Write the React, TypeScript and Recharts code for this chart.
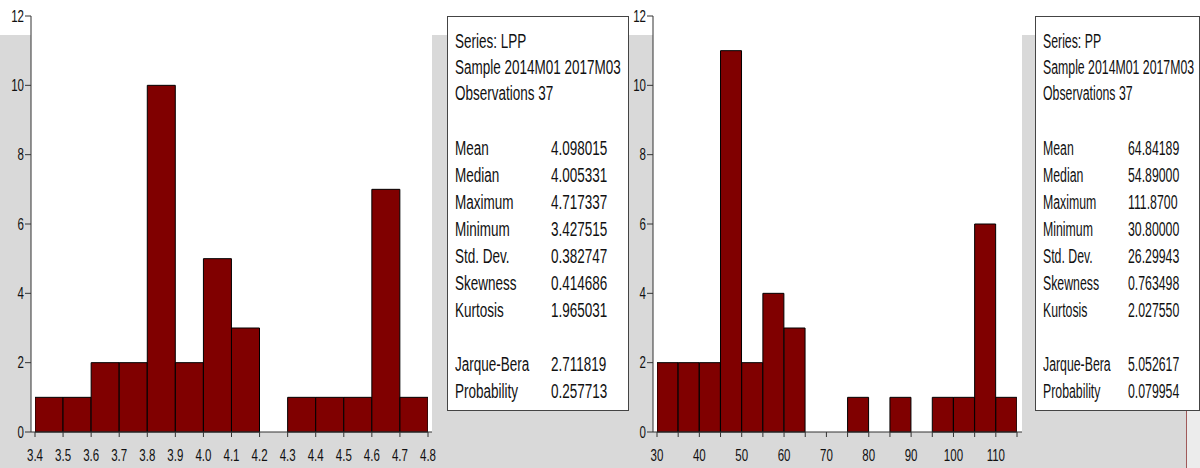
import { BarChart, Bar, XAxis, YAxis, CartesianGrid } from 'recharts';

// LPP histogram: bin mid points and counts (bin width 0.1)
const lppMids = [3.45, 3.55, 3.65, 3.75, 3.85, 3.95, 4.05, 4.15, 4.25, 4.35, 4.45, 4.55, 4.65, 4.75];
const lppCounts = [1, 1, 2, 2, 10, 2, 5, 3, 0, 1, 1, 1, 7, 1];
const lppTicks = [3.4, 3.5, 3.6, 3.7, 3.8, 3.9, 4.0, 4.1, 4.2, 4.3, 4.4, 4.5, 4.6, 4.7, 4.8];

// PP histogram: bin mid points and counts (bin width 5)
const ppMids = [32.5, 37.5, 42.5, 47.5, 52.5, 57.5, 62.5, 67.5, 72.5, 77.5, 82.5, 87.5, 92.5, 97.5, 102.5, 107.5, 112.5];
const ppCounts = [2, 2, 2, 11, 2, 4, 3, 0, 0, 1, 0, 1, 0, 1, 1, 6, 1];
const ppTicks = [30, 35, 40, 45, 50, 55, 60, 65, 70, 75, 80, 85, 90, 95, 100, 105, 110, 115];

const yTicks = [0, 2, 4, 6, 8, 10, 12];

const lppStats: [string, string][] = [
  ['Mean', '4.098015'], ['Median', '4.005331'], ['Maximum', '4.717337'], ['Minimum', '3.427515'],
  ['Std. Dev.', '0.382747'], ['Skewness', '0.414686'], ['Kurtosis', '1.965031'],
];
const lppTests: [string, string][] = [['Jarque-Bera', '2.711819'], ['Probability', '0.257713']];

const ppStats: [string, string][] = [
  ['Mean', '64.84189'], ['Median', '54.89000'], ['Maximum', '111.8700'], ['Minimum', '30.80000'],
  ['Std. Dev.', '26.29943'], ['Skewness', '0.763498'], ['Kurtosis', '2.027550'],
];
const ppTests: [string, string][] = [['Jarque-Bera', '5.052617'], ['Probability', '0.079954']];

// EViews uses a narrow font; fake it by squeezing Liberation Sans horizontally
const FONT = '"Liberation Sans", Arial, sans-serif';
const SQUEEZE = 0.72;
const AXIS = '#333';
const BAR = '#800000';

// eslint-disable-next-line @typescript-eslint/no-explicit-any
const XTick = ({ x, y, payload, fmt }: any) => (
  <g transform={`translate(${x},${y})`}>
    <text transform={`scale(${SQUEEZE},1)`} textAnchor="middle" dy={22} fontSize={16} fontFamily={FONT} fill="#111">
      {fmt(payload.value)}
    </text>
  </g>
);

// eslint-disable-next-line @typescript-eslint/no-explicit-any
const YTick = ({ x, y, payload }: any) => (
  <g transform={`translate(${x},${y})`}>
    <text transform={`scale(${SQUEEZE},1)`} textAnchor="end" dy={5.5} fontSize={16} fontFamily={FONT} fill="#111">
      {payload.value}
    </text>
  </g>
);

interface HistProps {
  mids: number[];
  counts: number[];
  ticks: number[];
  domain: [number, number];
  pad: { left: number; right: number };
  yWidth: number;
  width: number;
  fmt: (v: number) => string;
}

function Histogram({ mids, counts, ticks, domain, pad, yWidth, width, fmt }: HistProps) {
  const data = mids.map((m, i) => ({ mid: m, count: counts[i] }));
  return (
    <BarChart
      width={width}
      height={468}
      data={data}
      margin={{ top: 16, right: 18, left: 0, bottom: 6 }}
      barCategoryGap={0}
      barGap={0}
    >
      <CartesianGrid fill="#fff" horizontal={false} vertical={false} />
      <XAxis
        type="number"
        dataKey="mid"
        domain={domain}
        ticks={ticks}
        interval={0}
        padding={pad}
        tick={<XTick fmt={fmt} />}
        tickSize={5}
        stroke={AXIS}
        allowDataOverflow
        height={30}
      />
      <XAxis xAxisId="top" orientation="top" type="number" domain={domain} padding={pad} tick={false} tickLine={false} stroke={AXIS} height={0} />
      <YAxis
        domain={[0, 12]}
        ticks={yTicks}
        interval={0}
        tick={<YTick />}
        tickSize={6}
        tickMargin={1}
        stroke={AXIS}
        width={yWidth}
      />
      <YAxis yAxisId="right" orientation="right" domain={[0, 12]} tick={false} tickLine={false} stroke={AXIS} width={0} />
      <Bar dataKey="count" fill={BAR} stroke="#000" strokeWidth={1} isAnimationActive={false} />
    </BarChart>
  );
}

function StatsBox({ series, stats, tests, left, width, valueX, squeeze }: {
  series: string; stats: [string, string][]; tests: [string, string][];
  left: number; width: number; valueX: number; squeeze: number;
}) {
  const row = (k: string, v: string) => (
    <div key={k} style={{ display: 'flex', height: 27, lineHeight: '27px' }}>
      <span style={{ width: valueX / squeeze, flexShrink: 0 }}>{k}</span>
      <span>{v}</span>
    </div>
  );
  return (
    <div
      style={{
        position: 'absolute', left, top: 16, width, height: 395, boxSizing: 'border-box',
        background: '#fff', border: '1px solid #444', overflow: 'hidden',
      }}
    >
      <div
        style={{
          position: 'absolute', left: 7, top: 11, width: 400, whiteSpace: 'nowrap',
          fontFamily: FONT, fontSize: 20, color: '#111', lineHeight: '26px',
          transform: `scaleX(${squeeze})`, transformOrigin: 'left top',
        }}
      >
        <div>Series: {series}</div>
        <div>Sample 2014M01 2017M03</div>
        <div>Observations 37</div>
        <div style={{ height: 28.5 }} />
        {stats.map(([k, v]) => row(k, v))}
        <div style={{ height: 27 }} />
        {tests.map(([k, v]) => row(k, v))}
      </div>
    </div>
  );
}

export default function App() {
  return (
    <div style={{ position: 'absolute', left: 0, top: 0, width: 1200, height: 468, overflow: 'hidden', background: '#d9d9d9' }}>
      <div style={{ position: 'absolute', left: 0, top: 0, width: 1200, height: 35, background: '#fff' }} />
      <div style={{ position: 'absolute', left: 1187, top: 35, width: 13, height: 433, background: '#ececec' }} />
      <div style={{ position: 'absolute', left: 1186, top: 410, width: 1, height: 58, background: '#a05a5a' }} />
      <div style={{ position: 'absolute', left: 0, top: 0 }}>
        <Histogram mids={lppMids} counts={lppCounts} ticks={lppTicks} domain={[3.4, 4.8]} pad={{ left: 4, right: 4 }}
          yWidth={31} width={450} fmt={(v) => v.toFixed(1)} />
      </div>
      <StatsBox series="LPP" stats={lppStats} tests={lppTests} left={447} width={182} valueX={96} squeeze={0.675} />
      <div style={{ position: 'absolute', left: 600, top: 0 }}>
        <Histogram mids={ppMids} counts={ppCounts} ticks={ppTicks} domain={[30, 115]} pad={{ left: 4, right: 5 }}
          yWidth={53} width={440} fmt={(v) => (v % 10 === 0 ? String(v) : '')} />
      </div>
      <StatsBox series="PP" stats={ppStats} tests={ppTests} left={1035} width={165} valueX={85} squeeze={0.615} />
    </div>
  );
}
